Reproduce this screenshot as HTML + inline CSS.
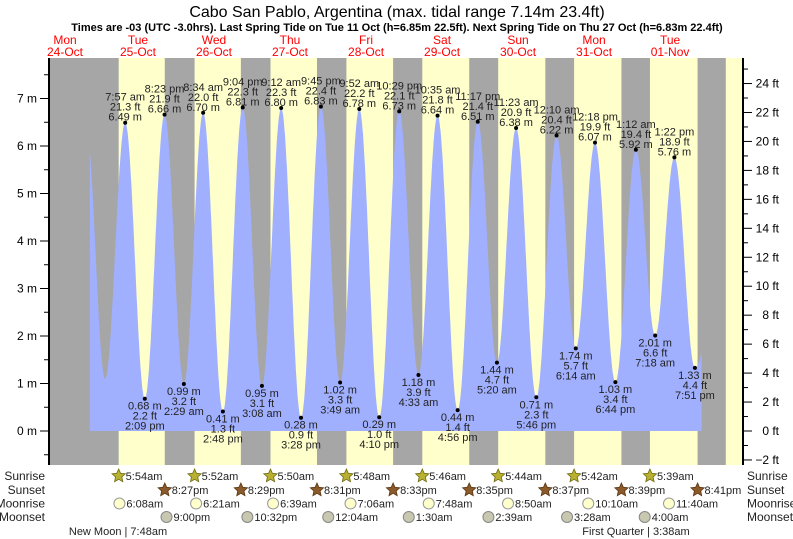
<!DOCTYPE html>
<html><head><meta charset="utf-8"><style>
html,body{margin:0;padding:0;background:#fff;}
svg{display:block;font-family:"Liberation Sans",sans-serif;}
</style></head><body>
<svg id="chart" width="793" height="539" viewBox="0 0 793 539">
<text x="397" y="17" text-anchor="middle" font-size="16" fill="#000">Cabo San Pablo, Argentina (max. tidal range 7.14m 23.4ft)</text>
<text x="397" y="31" text-anchor="middle" font-size="11" font-weight="bold" fill="#000">Times are -03 (UTC -3.0hrs). Last Spring Tide on Tue 11 Oct (h=6.85m 22.5ft). Next Spring Tide on Thu 27 Oct (h=6.83m 22.4ft)</text>
<g id="bands"></g><g id="fillg"></g><g id="labels"></g><g id="axes"></g><g id="days"></g><g id="bottom"></g>
</svg>
<script>
const dayNames=["Mon","Tue","Wed","Thu","Fri","Sat","Sun","Mon","Tue"];
const dayDates=["24-Oct","25-Oct","26-Oct","27-Oct","28-Oct","29-Oct","30-Oct","31-Oct","01-Nov"];
// tide extremes: day offset from 25-Oct, time, height (m)
const tideDay=[0,0,0,1,1,1,1,2,2,2,2,3,3,3,3,4,4,4,4,5,5,5,6,6,6,6,7,7,7];
const tideTime=["7:57 am","2:09 pm","8:23 pm","2:29 am","8:34 am","2:48 pm","9:04 pm","3:08 am","9:12 am","3:28 pm","9:45 pm","3:49 am","9:52 am","4:10 pm","10:29 pm","4:33 am","10:35 am","4:56 pm","11:17 pm","5:20 am","11:23 am","5:46 pm","12:10 am","6:14 am","12:18 pm","6:44 pm","1:12 am","7:18 am","1:22 pm"];
const tideHeight=[6.49,0.68,6.66,0.99,6.70,0.41,6.81,0.95,6.80,0.28,6.83,1.02,6.78,0.29,6.73,1.18,6.64,0.44,6.51,1.44,6.38,0.71,6.22,1.74,6.07,1.03,5.92,2.01,5.76];
const lastTideDay=7, lastTideTime="7:51 pm", lastTideHeight=1.33;
const preHighHour=-4.4, preHighHeight=6.4, preLowHour=1.6, preLowHeight=1.1;
const postHighHour=200, postHighHeight=5.6;
const sunriseTimes=["5:54am","5:52am","5:50am","5:48am","5:46am","5:44am","5:42am","5:39am"];
const sunsetTimes=["8:27pm","8:29pm","8:31pm","8:33pm","8:35pm","8:37pm","8:39pm","8:41pm"];
const moonriseTimes=["6:08am","6:21am","6:39am","7:06am","7:48am","8:50am","10:10am","11:40am"];
const moonsetDay=[0,1,3,4,5,6,7];
const moonsetTimes=["9:00pm","10:32pm","12:04am","1:30am","2:39am","3:28am","4:00am"];
const meterTicks=[0,1,2,3,4,5,6,7];
const feetTicks=[-2,0,2,4,6,8,10,12,14,16,18,20,22,24];

const NS="http://www.w3.org/2000/svg";
const X0=100,PXH=3.167,Y0=431,PXM=47.5,L=49,R=743,T=58,B=465;
const xOf=h=>X0+h*PXH, yOf=m=>Y0-m*PXM;
function hrs(s){const m=s.match(/(\d+):(\d+)\s*(am|pm)/);let h=+m[1]%12;if(m[3]=="pm")h+=12;return h+(+m[2])/60;}
function mk(tag,at,parent,txt){const e=document.createElementNS(NS,tag);for(const k in at)e.setAttribute(k,at[k]);if(txt!==undefined)e.textContent=txt;parent.appendChild(e);return e;}
const bands=document.getElementById('bands'),fillg=document.getElementById('fillg'),labels=document.getElementById('labels'),axes=document.getElementById('axes'),days=document.getElementById('days'),bottom=document.getElementById('bottom');

let r=mk('rect',{x:L,y:T,width:R-L,height:B-T,fill:'#a6a6a6'},bands);


for(let d=0;d<8;d++){
  const a=xOf(d*24+hrs(sunriseTimes[d])), b=xOf(d*24+hrs(sunsetTimes[d]));
  const e=mk('rect',{x:a,y:T,width:b-a,height:B-T,fill:'#ffffcc'},bands);
  
  
}
{const a=xOf(8*24+5.6);const e=mk('rect',{x:a,y:T,width:R-a,height:B-T,fill:'#ffffcc'},bands);

}

const ex=[{h:preHighHour,m:preHighHeight},{h:preLowHour,m:preLowHeight}];
for(let i=0;i<tideDay.length;i++)ex.push({h:tideDay[i]*24+hrs(tideTime[i]),m:tideHeight[i],t:tideTime[i]});
ex.push({h:lastTideDay*24+hrs(lastTideTime),m:lastTideHeight,t:lastTideTime});
ex.push({h:postHighHour,m:postHighHeight});
function hAt(h){for(let i=0;i<ex.length-1;i++){if(h>=ex[i].h&&h<=ex[i+1].h){const f=(h-ex[i].h)/(ex[i+1].h-ex[i].h);return ex[i].m+(ex[i+1].m-ex[i].m)*(1-Math.cos(Math.PI*f))/2;}}return 0;}
const hs=-3.2,he=190.0;
let d='M'+xOf(hs).toFixed(1)+','+Y0;
for(let h=hs;h<=he;h+=0.1)d+=' L'+xOf(h).toFixed(1)+','+yOf(hAt(h)).toFixed(1);
d+=' L'+xOf(he).toFixed(1)+','+Y0+' Z';
const tf=mk('path',{d:d,fill:'#a0b0ff'},fillg);



for(let i=2;i<ex.length-1;i++){
  const e=ex[i],x=xOf(e.h),y=yOf(e.m),ft=(e.m*3.28084).toFixed(1)+' ft',mm=e.m.toFixed(2)+' m';
  const high=e.m>3;
  const g=mk('g',{},labels);
  
  
  const dot=mk('circle',{cx:x,cy:y,r:2,fill:'#000'},g);
  
  
  const lines=high?[e.t,ft,mm]:[mm,ft,e.t];
  const ys=high?[y-22,y-12,y-2]:[y+11,y+21,y+31];
  for(let k=0;k<3;k++)mk('text',{x:x,y:ys[k],'text-anchor':'middle','font-size':'11',fill:'#222'},g,lines[k]);
}

const la=mk('line',{x1:L,y1:T,x2:L,y2:B,stroke:'#000','stroke-width':2},axes);


const ra=mk('line',{x1:R,y1:T,x2:R,y2:B,stroke:'#000','stroke-width':2},axes);


for(let m=-0.5;m<=7.5;m+=0.5){const y=yOf(m);if(y<T||y>B)continue;mk('line',{x1:L-(m%1==0?9:5),y1:y,x2:L,y2:y,stroke:'#000'},axes);}
for(const m of meterTicks){const t=mk('text',{x:37,y:yOf(m)+4,'text-anchor':'end','font-size':'12'},axes,m+' m');

}
for(let f=-2;f<=25;f++){const y=yOf(f/3.28084);if(y<T||y>B)continue;mk('line',{x1:R,y1:y,x2:R+(f%2==0?9:5),y2:y,stroke:'#000'},axes);}
for(const f of feetTicks){const t=mk('text',{x:779,y:yOf(f/3.28084)+4,'text-anchor':'end','font-size':'12'},axes,(f<0?'\u22122':f)+' ft');

}

for(let i=0;i<dayNames.length;i++){
  const x=i==0?65:xOf((i-1)*24+12);
  const g=mk('g',{},days);
  
  
  mk('text',{x:x,y:44,'text-anchor':'middle','font-size':'12',fill:'#f00'},g,dayNames[i]);
  mk('text',{x:x,y:56,'text-anchor':'middle','font-size':'12',fill:'#f00'},g,dayDates[i]);
}

const rowY=[476,490,503.5,517];
const rowNames=['Sunrise','Sunset','Moonrise','Moonset'];
for(let i=0;i<4;i++){
  let t=mk('text',{x:45,y:rowY[i]+4,'text-anchor':'end','font-size':'12',fill:'#222'},bottom,rowNames[i]);
  
  
  t=mk('text',{x:747,y:rowY[i]+4,'font-size':'12',fill:'#222'},bottom,rowNames[i]);
  
  
}
function star(x,y,fill,stroke){let p='';for(let k=0;k<10;k++){const a=-Math.PI/2+k*Math.PI/5,rr=k%2?3.3:7;p+=(x+rr*Math.cos(a)).toFixed(1)+','+(y+rr*Math.sin(a)).toFixed(1)+' ';}return mk('polygon',{points:p,fill:fill,stroke:stroke,'stroke-width':0.8},bottom);}
function evt(h,row,label,kind){
  const x=xOf(h),y=rowY[row];
  let ic;
  if(kind=='sr')ic=star(x,y,'#b8b030','#6e6a10');
  else if(kind=='ss')ic=star(x,y,'#8b5a2b','#5a3510');
  else if(kind=='mr')ic=mk('circle',{cx:x,cy:y,r:5.5,fill:'#ffffcc',stroke:'#999'},bottom);
  else ic=mk('circle',{cx:x,cy:y,r:5.5,fill:'#c8c8b0',stroke:'#888'},bottom);
  
  
  const t=mk('text',{x:x+7,y:y+4,'font-size':'11',fill:'#222'},bottom,label);
  
  
}
for(let i=0;i<8;i++){evt(i*24+hrs(sunriseTimes[i]),0,sunriseTimes[i],'sr');evt(i*24+hrs(sunsetTimes[i]),1,sunsetTimes[i],'ss');evt(i*24+hrs(moonriseTimes[i]),2,moonriseTimes[i],'mr');}
for(let i=0;i<moonsetDay.length;i++)evt(moonsetDay[i]*24+hrs(moonsetTimes[i]),3,moonsetTimes[i],'ms');
let ph=mk('text',{x:118,y:535,'text-anchor':'middle','font-size':'11',fill:'#222'},bottom,'New Moon | 7:48am');


ph=mk('text',{x:636,y:535,'text-anchor':'middle','font-size':'11',fill:'#222'},bottom,'First Quarter | 3:38am');


</script>
</body></html>
